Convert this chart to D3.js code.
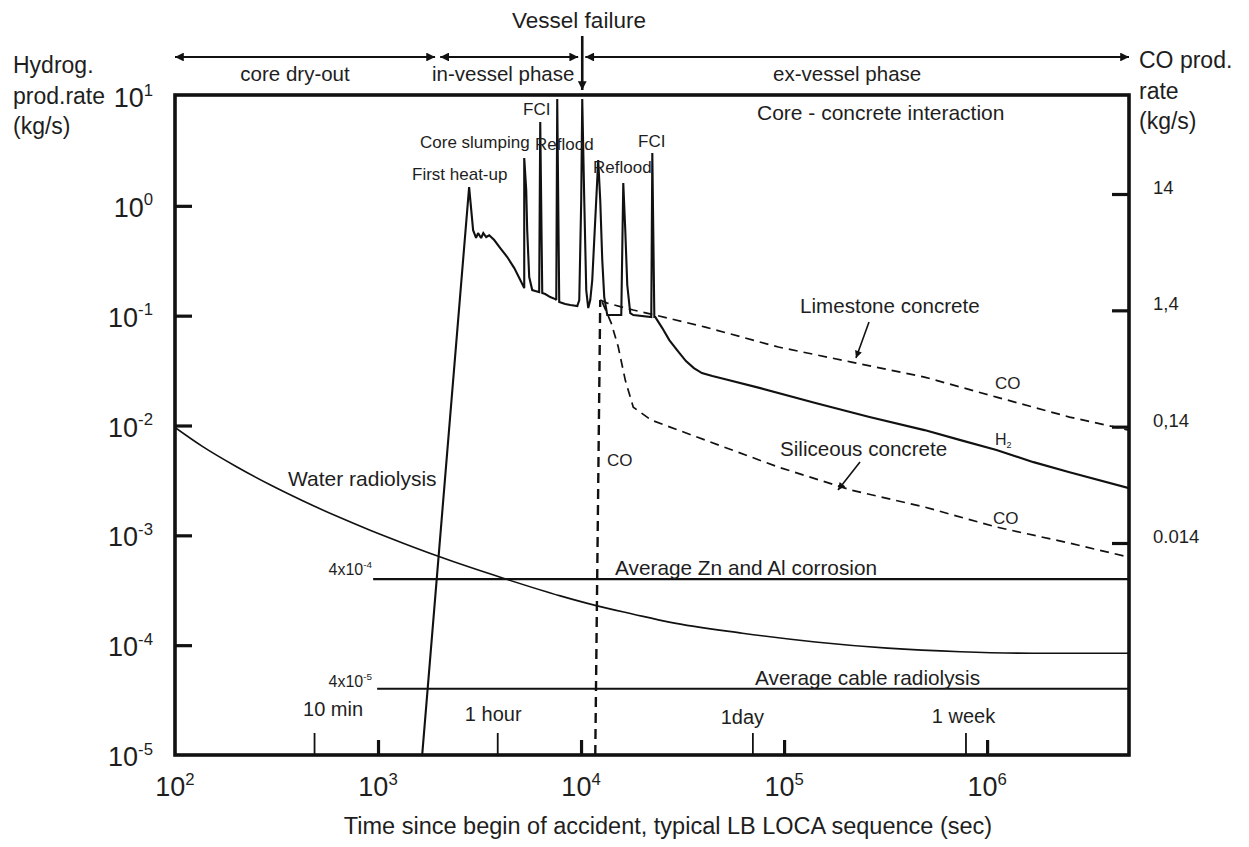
<!DOCTYPE html>
<html>
<head>
<meta charset="utf-8">
<script src="https://cdn.jsdelivr.net/npm/d3@7"></script>
<style>
  html, body { margin: 0; padding: 0; background: #fff; }
  svg text { font-family: "Liberation Sans", Arial, Helvetica, sans-serif; fill: #1e1e1e; }
</style>
</head>
<body>
<svg id="chart" width="1249" height="847"></svg>
<script>
// ---------------- data ----------------
// time axis decades (s) and hydrogen-rate decades (kg/s)
const timeDecades = [100, 1e3, 1e4, 1e5, 1e6];
const timeExponents = ["2", "3", "4", "5", "6"];
const rateDecades = [10, 1, 0.1, 0.01, 1e-3, 1e-4, 1e-5];
const rateExponents = ["1", "0", "-1", "-2", "-3", "-4", "-5"];

// CO production rate axis (kg/s)
const coTicks = [14, 1.4, 0.14, 0.014];
const coTickLabels = ["14", "1,4", "0,14", "0.014"];

// time marks drawn on the bottom axis
const timeMarkLabels = ["10 min", "1 hour", "1day", "1 week"];
const timeMarkValues = [484, 3865, 69800, 782500];

// accident phases (s)
const phaseLabels = ["core dry-out", "in-vessel phase", "ex-vessel phase"];
const phaseStart = [100, 2024, 10490];
const phaseEnd = [1910, 9680, 5e6];
const vesselFailureTime = 10137;

// hydrogen production rate, [time s, rate kg/s]
const h2Production = [
  [1650, 1e-5], [2810, 1.48], [2940, 0.60], [3040, 0.51], [3110, 0.565],
  [3220, 0.51], [3300, 0.565], [3410, 0.52], [3530, 0.54], [3735, 0.488],
  [4000, 0.413], [4330, 0.342], [4690, 0.271], [5020, 0.211], [5250, 0.178],
  [5250, 2.72], [5370, 1.39], [5430, 0.60], [5555, 0.225], [5750, 0.171],
  [5950, 0.1675], [6220, 0.164], [6295, 5.8], [6440, 0.1606], [6660, 0.1573],
  [7050, 0.1477], [7460, 0.1416], [7550, 0.1387], [7633, 9.39], [7807, 0.133],
  [8360, 0.1275], [8850, 0.1249], [9580, 0.1223], [9800, 0.1387], [10020, 1.13],
  [10137, 9.39], [10370, 1.13], [10607, 0.171], [10850, 0.1173], [11100, 0.1387],
  [11355, 0.211], [11880, 1.13], [12150, 2.61], [12430, 1.13], [12720, 0.321],
  [13010, 0.1477], [13460, 0.1013], [15780, 0.1013], [15960, 0.396], [16144, 1.61],
  [16512, 0.602], [16890, 0.19], [17474, 0.1056], [18080, 0.1013], [22180, 0.0971],
  [22440, 3.03], [22960, 0.0971], [23220, 0.0971], [25130, 0.0771], [27210, 0.0599],
  [29990, 0.0476], [32860, 0.0386], [35960, 0.0333], [39390, 0.0300], [44330, 0.0282],
  [50800, 0.02646], [76400, 0.0219], [142700, 0.0160], [263400, 0.01193],
  [491400, 0.00908], [739600, 0.00736], [1112500, 0.00597], [1693000, 0.00464],
  [2548000, 0.00376], [5000000, 0.00269]
];

// water radiolysis, [time s, rate kg/s]
const waterRadiolysis = [
  [100, 0.0096], [137, 0.00642], [202, 0.00419], [294, 0.002884], [428, 0.002053],
  [628, 0.001489], [914, 0.001113], [1330, 8.49e-4], [1950, 6.52e-4], [2840, 5.11e-4],
  [4140, 4.07e-4], [7900, 2.81e-4], [11880, 2.29e-4], [18100, 1.915e-4], [27200, 1.62e-4],
  [62300, 1.286e-4], [142600, 1.069e-4], [323000, 9.39e-5], [739000, 8.71e-5],
  [1690000, 8.45e-5], [5000000, 8.45e-5]
];

// CO release after vessel failure (read on the hydrogen scale)
const coOnset = [[11750, 1e-5], [12430, 0.1387]];
const coLimestone = [
  [12430, 0.1387], [13460, 0.1302], [18080, 0.1125], [23220, 0.1013], [40940, 0.0787],
  [93740, 0.0518], [214700, 0.0378], [491400, 0.0276], [1112500, 0.01814],
  [2548000, 0.01193], [5000000, 0.00908]
];
const coSiliceous = [
  [12720, 0.133], [14085, 0.0856], [15253, 0.0518], [16512, 0.0259], [18080, 0.0147],
  [22180, 0.0112], [40940, 0.00736], [93740, 0.00418], [214700, 0.00258],
  [491400, 0.00181], [1112500, 0.00119], [2548000, 8.49e-4], [5000000, 6.33e-4]
];

// constant average sources
const corrosionRate = 4e-4;
const corrosionStart = 946;
const cableRate = 4e-5;
const cableStart = 990;

// ---------------- layout ----------------
const svg = d3.select("#chart");
const L = 175, R = 1129, T = 95, B = 755;

const x = d3.scaleLog().domain([100, 5e6]).range([L, R]);
const y = d3.scaleLog().domain([1e-5, 10]).range([B, 96]);
const yCO = d3.scaleLog().domain([0.014, 14]).range([543, 194]);

const defs = svg.append("defs");
defs.append("clipPath").attr("id", "plot-clip")
  .append("rect").attr("x", L).attr("y", T).attr("width", R - L).attr("height", B - T);

function marker(id, size) {
  defs.append("marker")
    .attr("id", id)
    .attr("viewBox", "0 0 10 10")
    .attr("refX", 10).attr("refY", 5)
    .attr("markerWidth", size).attr("markerHeight", size * 0.8)
    .attr("markerUnits", "userSpaceOnUse")
    .attr("orient", "auto-start-reverse")
    .append("path").attr("d", "M0,0 L10,5 L0,10 Z").attr("fill", "#111");
}
marker("arrow", 11);
marker("arrow-small", 9);

function powerText(g, px, py, base, exp, size, anchor) {
  const t = g.append("text")
    .attr("x", px).attr("y", py)
    .attr("font-size", size)
    .attr("text-anchor", anchor || "start");
  t.append("tspan").text(base);
  t.append("tspan").attr("dy", -0.42 * size).attr("font-size", size * 0.62).text(exp);
  return t;
}

function label(textValue, px, py, size, anchor) {
  return svg.append("text")
    .attr("x", px).attr("y", py)
    .attr("font-size", size)
    .attr("text-anchor", anchor || "start")
    .text(textValue);
}

// ---------------- series ----------------
const plot = svg.append("g").attr("clip-path", "url(#plot-clip)");
const line = d3.line().x(d => x(d[0])).y(d => y(d[1]));
const smooth = d3.line().x(d => x(d[0])).y(d => y(d[1])).curve(d3.curveMonotoneX);

plot.append("path").datum(waterRadiolysis)
  .attr("d", smooth).attr("fill", "none").attr("stroke", "#111").attr("stroke-width", 1.6);

plot.append("path").datum(coOnset)
  .attr("d", line).attr("fill", "none").attr("stroke", "#111")
  .attr("stroke-width", 2.4).attr("stroke-dasharray", "10,6");

[coLimestone, coSiliceous].forEach(s => {
  plot.append("path").datum(s)
    .attr("d", line).attr("fill", "none").attr("stroke", "#111")
    .attr("stroke-width", 1.7).attr("stroke-dasharray", "9,6");
});

plot.append("path").datum(h2Production)
  .attr("d", line).attr("fill", "none").attr("stroke", "#111")
  .attr("stroke-width", 2.1).attr("stroke-linejoin", "miter").attr("stroke-miterlimit", 2);

// constant average sources
plot.append("line")
  .attr("x1", x(corrosionStart)).attr("x2", x(5e6))
  .attr("y1", y(corrosionRate)).attr("y2", y(corrosionRate))
  .attr("stroke", "#111").attr("stroke-width", 2.2);
plot.append("line")
  .attr("x1", x(cableStart)).attr("x2", x(5e6))
  .attr("y1", y(cableRate)).attr("y2", y(cableRate))
  .attr("stroke", "#111").attr("stroke-width", 2);

// ---------------- axes ----------------
const leftTicks = svg.append("g").attr("transform", `translate(${L},0)`)
  .call(d3.axisRight(y).tickValues(rateDecades.slice(1, -1)).tickSize(17).tickFormat(""));
const bottomTicks = svg.append("g").attr("transform", `translate(0,${B})`)
  .call(d3.axisTop(x).tickValues(timeDecades.slice(1)).tickSize(15).tickFormat(""));
const markTicks = svg.append("g").attr("transform", `translate(0,${B})`)
  .call(d3.axisTop(x).tickValues(timeMarkValues).tickSize(22).tickFormat(""));
const rightTicks = svg.append("g").attr("transform", `translate(${R},0)`)
  .call(d3.axisLeft(yCO).tickValues(coTicks).tickSize(17).tickFormat(""));

[leftTicks, bottomTicks, markTicks, rightTicks].forEach(g => g.select(".domain").remove());
[leftTicks, bottomTicks, rightTicks].forEach(g =>
  g.selectAll(".tick line").attr("stroke", "#111").attr("stroke-width", 3.2));
markTicks.selectAll(".tick line").attr("stroke", "#111").attr("stroke-width", 1.8);

// frame
svg.append("rect")
  .attr("x", L).attr("y", T).attr("width", R - L).attr("height", B - T)
  .attr("fill", "none").attr("stroke", "#111").attr("stroke-width", 3.6);

// tick labels
rateDecades.forEach((v, i) => powerText(svg, 153, y(v) + 11, "10", rateExponents[i], 27, "end"));
timeDecades.forEach((v, i) => powerText(svg, x(v), 796, "10", timeExponents[i], 27, "middle"));
coTicks.forEach((v, i) => label(coTickLabels[i], 1153, yCO(v), 18.5));

const markOffsets = [19, -4, -10, -2];
const markBaselines = [716, 721, 724, 723];
timeMarkValues.forEach((v, i) =>
  label(timeMarkLabels[i], x(v) + markOffsets[i], markBaselines[i], 20, "middle"));

// axis titles
label("Time since begin of accident, typical LB LOCA sequence (sec)", 668, 834, 23.5, "middle");
label("Hydrog.", 13, 73, 23);
label("prod.rate", 13, 104, 23);
label("(kg/s)", 13, 134, 23);
label("CO prod.", 1139, 68, 23);
label("rate", 1139, 99, 23);
label("(kg/s)", 1139, 129, 23);

// ---------------- phase arrows ----------------
const arrowY = 57;
const phaseOffsets = [-10, -6, -10];
phaseLabels.forEach((p, i) => {
  const x1 = x(phaseStart[i]), x2 = x(phaseEnd[i]);
  svg.append("line")
    .attr("x1", x1).attr("x2", x2).attr("y1", arrowY).attr("y2", arrowY)
    .attr("stroke", "#111").attr("stroke-width", 1.8)
    .attr("marker-start", "url(#arrow)").attr("marker-end", "url(#arrow)");
  label(p, (x1 + x2) / 2 + phaseOffsets[i], 81, 20.5, "middle");
});
svg.append("line")
  .attr("x1", x(vesselFailureTime)).attr("x2", x(vesselFailureTime))
  .attr("y1", 36).attr("y2", 90)
  .attr("stroke", "#111").attr("stroke-width", 2.6)
  .attr("marker-end", "url(#arrow)");
label("Vessel failure", 579, 28, 22.5, "middle");

// ---------------- annotations ----------------
label("Core - concrete interaction", 757, 120, 21);
label("First heat-up", 412, 180, 17);
label("Core slumping", 420, 148, 17);
label("FCI", 523, 115, 17);
label("Reflood", 535, 150, 17);
label("Reflood", 593, 173, 17);
label("FCI", 638, 147, 17);

label("Limestone concrete", 800, 313, 20.6);
label("CO", 995, 389, 17);
const h2Label = svg.append("text").attr("x", 995).attr("y", 445).attr("font-size", 16);
h2Label.append("tspan").text("H");
h2Label.append("tspan").attr("dy", 3).attr("font-size", 9).text("2");
label("Siliceous concrete", 780, 456, 20.6);
label("CO", 993, 524, 17);
label("CO", 607, 466, 17);
label("Water radiolysis", 288, 486, 21);

label("Average Zn and Al corrosion", 615, y(corrosionRate) - 4, 20.8);
label("Average cable radiolysis", 755, y(cableRate) - 4, 20.8);
powerText(svg, 372, y(corrosionRate) - 4, "4x10", "-4", 16, "end");
powerText(svg, 372, y(cableRate) - 2, "4x10", "-5", 16, "end");

// pointers from the concrete labels to their CO curves
[[869, 322, 856, 358], [860, 462, 838, 490]].forEach(([a, b, c, d]) => {
  svg.append("line")
    .attr("x1", a).attr("y1", b).attr("x2", c).attr("y2", d)
    .attr("stroke", "#111").attr("stroke-width", 1.6)
    .attr("marker-end", "url(#arrow-small)");
});
</script>
</body>
</html>
